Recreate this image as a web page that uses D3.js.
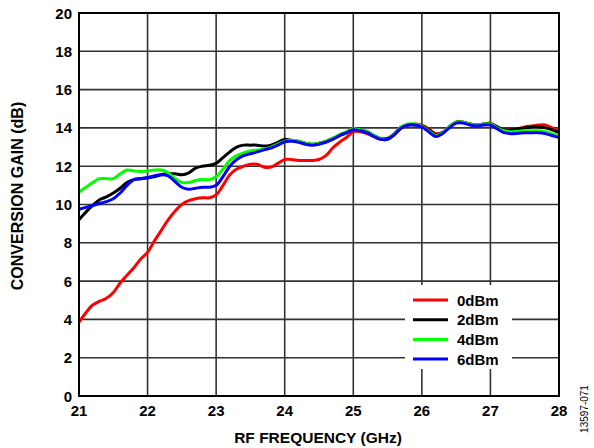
<!DOCTYPE html>
<html><head><meta charset="utf-8">
<script src="https://cdn.jsdelivr.net/npm/d3@7"></script>
<style>body{margin:0;background:#fff}svg{display:block}text{font-family:"Liberation Sans",Arial,sans-serif}</style>
</head><body>
<svg id="c" width="594" height="448"></svg>
<script>
const freqs = d3.range(0, 71).map(i => +(21 + i * 0.1).toFixed(1));
const xTicks = [21,22,23,24,25,26,27,28];
const yTicks = [0,2,4,6,8,10,12,14,16,18,20];
const seriesNames = ["0dBm","2dBm","4dBm","6dBm"];
const seriesColors = ["#ff0000","#000000","#00ff00","#0000ff"];
const gain0 = [3.85,4.35,4.75,4.95,5.1,5.4,5.9,6.3,6.7,7.15,7.5,8.1,8.65,9.2,9.65,10.0,10.2,10.3,10.35,10.35,10.5,11.0,11.55,11.85,12.0,12.1,12.1,11.95,11.95,12.15,12.35,12.35,12.3,12.3,12.3,12.35,12.55,12.95,13.25,13.5,13.8,13.8,13.7,13.55,13.4,13.4,13.65,14.0,14.15,14.2,14.15,13.95,13.7,13.75,14.05,14.3,14.3,14.2,14.15,14.2,14.25,14.05,13.9,13.9,13.95,14.05,14.1,14.15,14.15,14.0,13.85];
const gain2 = [9.2,9.6,9.95,10.25,10.4,10.6,10.85,11.15,11.3,11.35,11.4,11.45,11.55,11.6,11.6,11.55,11.65,11.9,12.0,12.05,12.15,12.45,12.75,13.0,13.1,13.1,13.1,13.05,13.1,13.25,13.4,13.35,13.3,13.2,13.15,13.2,13.3,13.45,13.6,13.75,13.95,13.9,13.8,13.6,13.45,13.45,13.7,14.05,14.15,14.15,14.1,13.9,13.65,13.75,14.05,14.3,14.3,14.2,14.15,14.2,14.2,14.05,13.9,13.9,13.95,14.0,14.05,14.05,14.0,13.9,13.75];
const gain4 = [10.65,10.9,11.15,11.35,11.35,11.35,11.6,11.8,11.75,11.72,11.75,11.8,11.8,11.65,11.35,11.15,11.15,11.25,11.3,11.3,11.45,11.85,12.3,12.55,12.7,12.8,12.85,12.9,13.0,13.15,13.3,13.35,13.3,13.2,13.15,13.2,13.3,13.45,13.65,13.8,13.95,13.9,13.8,13.6,13.45,13.4,13.7,14.05,14.2,14.2,14.1,13.85,13.6,13.75,14.05,14.3,14.3,14.2,14.15,14.2,14.2,14.0,13.85,13.8,13.82,13.85,13.85,13.85,13.8,13.7,13.6];
const gain6 = [9.75,9.85,9.95,10.05,10.15,10.3,10.6,11.0,11.3,11.35,11.4,11.5,11.55,11.5,11.2,10.9,10.8,10.85,10.9,10.9,11.0,11.45,12.0,12.35,12.55,12.65,12.75,12.85,12.95,13.1,13.28,13.3,13.25,13.15,13.1,13.15,13.25,13.4,13.6,13.75,13.9,13.85,13.75,13.55,13.4,13.4,13.65,14.0,14.15,14.15,14.05,13.8,13.55,13.7,14.0,14.25,14.25,14.15,14.1,14.15,14.15,13.95,13.75,13.7,13.72,13.75,13.75,13.75,13.7,13.6,13.5];
const allGains = [gain0, gain2, gain4, gain6];

const svg = d3.select("#c");
const L = 79, R = 559, T = 13, B = 396;
const x = d3.scaleLinear().domain([21, 28]).range([L, R]);
const y = d3.scaleLinear().domain([0, 20]).range([B, T]);

// grid
const grid = svg.append("g").attr("stroke", "#333").attr("stroke-width", 1.6);
grid.selectAll("line.v").data(xTicks.slice(1, -1)).join("line")
  .attr("x1", d => x(d)).attr("x2", d => x(d)).attr("y1", T).attr("y2", B);
grid.selectAll("line.h").data(yTicks.slice(1, -1)).join("line")
  .attr("x1", L).attr("x2", R).attr("y1", d => y(d)).attr("y2", d => y(d));

// legend background (covers gridlines)
const lg = svg.append("g");
lg.append("rect").attr("x", 405).attr("y", 285).attr("width", 107).attr("height", 84).attr("fill", "#fff");

// curves
const line = d3.line().x((d, i) => x(freqs[i])).y(d => y(d)).curve(d3.curveCatmullRom.alpha(0.5));
svg.append("g").selectAll("path").data(allGains).join("path")
  .attr("d", d => line(d)).attr("fill", "none")
  .attr("stroke", (d, i) => seriesColors[i]).attr("stroke-width", 3).attr("stroke-linejoin", "round");

// frame
svg.append("rect").attr("x", L).attr("y", T).attr("width", R - L).attr("height", B - T)
  .attr("fill", "none").attr("stroke", "#000").attr("stroke-width", 2);

// axes labels
svg.append("g").selectAll("text").data(yTicks).join("text")
  .attr("x", 72).attr("y", d => y(d) + 5.5).attr("text-anchor", "end")
  .attr("font-size", 15).attr("font-weight", "bold").text(d => d);
svg.append("g").selectAll("text").data(xTicks).join("text")
  .attr("x", d => x(d)).attr("y", 416).attr("text-anchor", "middle")
  .attr("font-size", 15).attr("font-weight", "bold").text(d => d);

svg.append("text").attr("x", 318).attr("y", 443).attr("text-anchor", "middle")
  .attr("font-size", 15.5).attr("font-weight", "bold").text("RF FREQUENCY (GHz)");
svg.append("text").attr("transform", "translate(23,196) rotate(-90)").attr("text-anchor", "middle")
  .attr("font-size", 16).attr("font-weight", "bold").text("CONVERSION GAIN (dB)");
svg.append("text").attr("transform", "translate(588,409) rotate(-90)").attr("text-anchor", "middle")
  .attr("font-size", 10).text("13597-071");

// legend entries
seriesNames.forEach((n, i) => {
  const yy = 300 + i * 19.7;
  lg.append("line").attr("x1", 413).attr("x2", 448).attr("y1", yy).attr("y2", yy)
    .attr("stroke", seriesColors[i]).attr("stroke-width", 3);
  lg.append("text").attr("x", 457).attr("y", yy + 5.5).attr("font-size", 15).attr("font-weight", "bold").text(n);
});
</script>
</body></html>
